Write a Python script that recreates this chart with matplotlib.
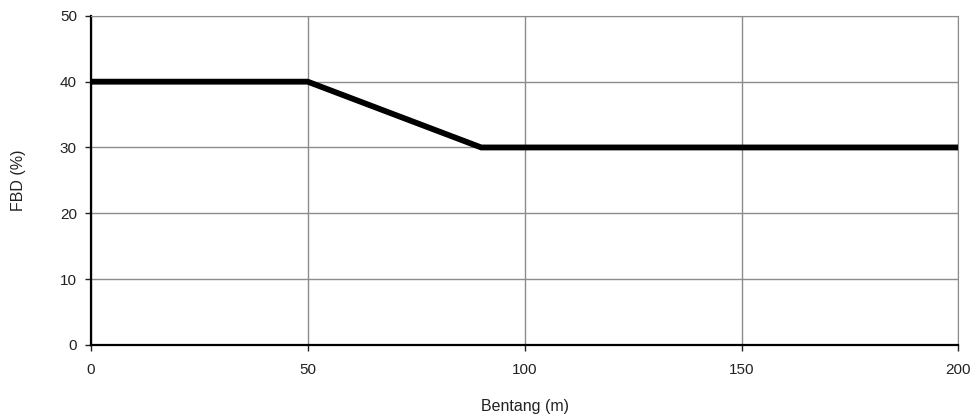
import matplotlib.pyplot as plt

plt.rcParams['font.family'] = ['Liberation Sans', 'DejaVu Sans']

# data
bentang = [0, 50, 90, 200]
fbd = [40, 40, 30, 30]
xticks = [0, 50, 100, 150, 200]
yticks = [0, 10, 20, 30, 40, 50]

fig = plt.figure(figsize=(9.76, 4.18), dpi=100)
ax = fig.add_axes([0.093, 0.175, 0.889, 0.787])

ax.plot(bentang, fbd, color='black', linewidth=4.2, solid_joinstyle='miter', zorder=3)

ax.set_xlim(0, 200)
ax.set_ylim(0, 50)
ax.set_xticks(xticks)
ax.set_yticks(yticks)
ax.grid(True, color='#8c8c8c', linewidth=1.0)
ax.set_axisbelow(True)

for s in ['top', 'right']:
    ax.spines[s].set_color('#8c8c8c')
for s in ['left', 'bottom']:
    ax.spines[s].set_color('black')
    ax.spines[s].set_linewidth(1.6)

ax.tick_params(direction='out', length=4, width=1, labelsize=11, colors='#222222')
ax.tick_params(axis='y', pad=6)
ax.tick_params(axis='x', pad=9)
ax.set_xlabel('Bentang (m)', fontsize=11.5, color='#222222')
ax.set_ylabel('FBD (%)', fontsize=11.5, color='#222222')
ax.xaxis.set_label_coords(0.5, -0.165)
ax.yaxis.set_label_coords(-0.075, 0.5)

fig.savefig('out.png', dpi=100)
